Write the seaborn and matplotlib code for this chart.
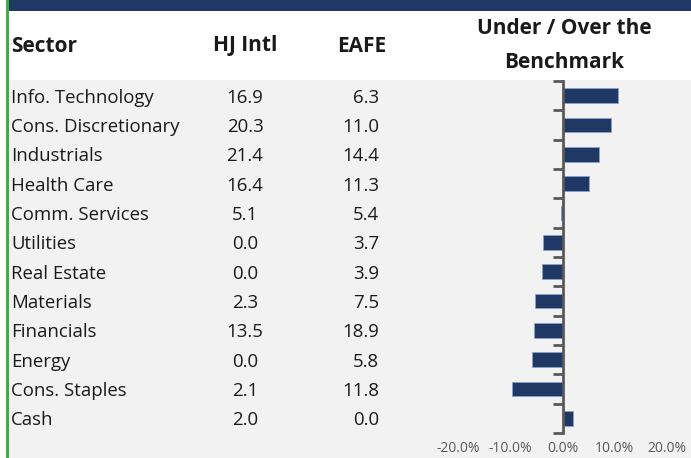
import matplotlib
matplotlib.use("Agg")
import matplotlib.pyplot as plt
import matplotlib.transforms as mtransforms
from matplotlib.patches import Rectangle
import seaborn as sns
import pandas as pd

sectors = ["Info. Technology", "Cons. Discretionary", "Industrials", "Health Care",
           "Comm. Services", "Utilities", "Real Estate", "Materials", "Financials",
           "Energy", "Cons. Staples", "Cash"]
hj_intl = [16.9, 20.3, 21.4, 16.4, 5.1, 0.0, 0.0, 2.3, 13.5, 0.0, 2.1, 2.0]
eafe = [6.3, 11.0, 14.4, 11.3, 5.4, 3.7, 3.9, 7.5, 18.9, 5.8, 11.8, 0.0]
over_under = [10.6, 9.3, 7.0, 5.1, -0.3, -3.7, -3.9, -5.2, -5.4, -5.8, -9.7, 2.0]
x_ticks = [-20, -10, 0, 10, 20]
headers = ["Sector", "HJ Intl", "EAFE", "Under / Over the\nBenchmark"]

NAVY = "#1f3864"
GRAY_BG = "#f2f2f2"
AXIS_GRAY = "#595959"
GREEN = "#3cb043"

sns.set_theme(style="white")
plt.rcParams["font.family"] = ["Open Sans", "DejaVu Sans"]

W, H = 691, 458
fig = plt.figure(figsize=(W / 100, H / 100), dpi=100, facecolor="white")

def fx(px):
    return px / W

def fy(py):
    return 1 - py / H

# backgrounds
fig.patches.append(Rectangle((fx(9), 0), 1 - fx(9), fy(80), transform=fig.transFigure,
                             facecolor=GRAY_BG, edgecolor="none", zorder=-2))
fig.patches.append(Rectangle((fx(9), fy(11)), 1 - fx(9), 11 / H, transform=fig.transFigure,
                             facecolor=NAVY, edgecolor="none", zorder=-2))
fig.patches.append(Rectangle((fx(6), 0), fx(3), 1, transform=fig.transFigure,
                             facecolor=GREEN, edgecolor="none", zorder=-1))

ax = fig.add_axes([fx(458), fy(433), fx(667) - fx(458), (433 - 81) / H])
ax.set_facecolor("none")
ax.set_zorder(3)

df = pd.DataFrame({"Sector": sectors, "Diff": over_under})
sns.barplot(data=df, x="Diff", y="Sector", orient="h", color=NAVY, width=0.5,
            saturation=1, edgecolor="#8fa3c8", linewidth=0.6, ax=ax)

ax.set_xlim(-20, 20)
ax.set_ylim(len(sectors) - 0.5, -0.5)
ax.set_xlabel("")
ax.set_ylabel("")
for s in ["top", "right", "bottom"]:
    ax.spines[s].set_visible(False)
ax.spines["left"].set_position(("data", 0))
ax.spines["left"].set_color(AXIS_GRAY)
ax.spines["left"].set_linewidth(2)
ax.set_yticks([i - 0.5 for i in range(len(sectors) + 1)])
ax.set_yticklabels([])
ax.tick_params(axis="y", which="major", left=True, length=7, width=2, color=AXIS_GRAY,
               direction="out")
ax.set_xticks(x_ticks)
ax.set_xticklabels([f"{v:.1f}%" for v in x_ticks])
ax.tick_params(axis="x", length=0, pad=6, labelsize=10, labelcolor=AXIS_GRAY)

# table text aligned with the bar rows (nudged down 2px to match reference)
offset = mtransforms.ScaledTranslation(0, -2 / 100, fig.dpi_scale_trans)
tr = mtransforms.blended_transform_factory(fig.transFigure, ax.transData) + offset
for i, (name, a, b) in enumerate(zip(sectors, hj_intl, eafe)):
    fig.text(fx(11), i, name, transform=tr, ha="left", va="center", fontsize=13.4,
             color="#1a1a1a")
    fig.text(fx(245), i, f"{a:.1f}", transform=tr, ha="center", va="center", fontsize=13.4,
             color="#1a1a1a")
    fig.text(fx(379), i, f"{b:.1f}", transform=tr, ha="right", va="center", fontsize=13.4,
             color="#1a1a1a")

hkw = dict(fontsize=15, fontweight="bold", color="#1a1a1a", va="center")
fig.text(fx(11), fy(46), headers[0], ha="left", **hkw)
fig.text(fx(245), fy(46), headers[1], ha="center", **hkw)
fig.text(fx(362), fy(46), headers[2], ha="center", **hkw)
top, bottom = headers[3].split("\n")
fig.text(fx(564), fy(29), top, ha="center", **hkw)
fig.text(fx(564), fy(63), bottom, ha="center", **hkw)

fig.savefig("out.png", dpi=100, facecolor="white")
